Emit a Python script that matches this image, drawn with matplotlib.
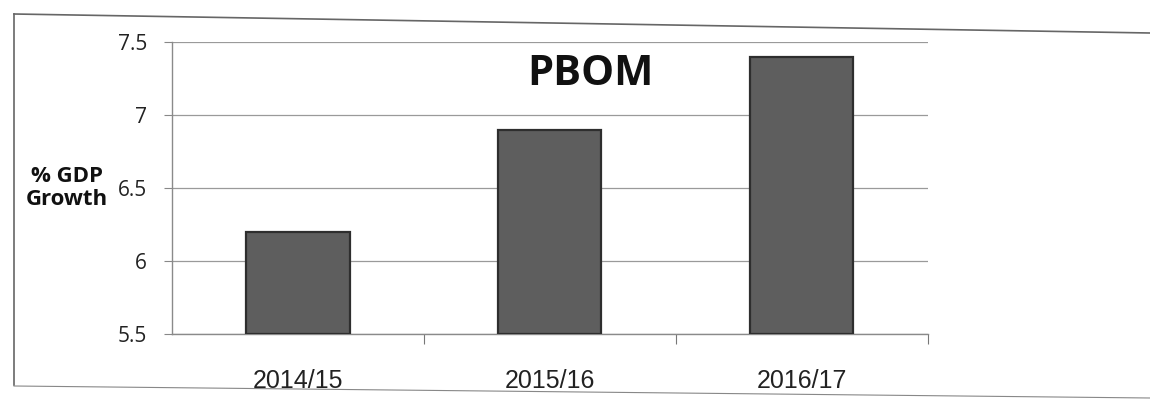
import matplotlib.pyplot as plt
from matplotlib.lines import Line2D

years = ['2014/15', '2015/16', '2016/17']
growth = [6.2, 6.9, 7.4]
y_ticks = [5.5, 6, 6.5, 7, 7.5]
y_labels = ['5.5', '6', '6.5', '7', '7.5']

fig = plt.figure(figsize=(11.5, 4), dpi=100)
ax = fig.add_axes([0.1496, 0.165, 0.657, 0.73])

x = range(len(years))
ax.bar(x, [g - 5.5 for g in growth], bottom=5.5, width=0.41,
       color='#5e5e5e', edgecolor='#2e2e2e', linewidth=1.6, zorder=3)

ax.set_xlim(-0.5, 2.5)
ax.set_ylim(5.5, 7.5)
ax.set_yticks(y_ticks)
ax.set_yticklabels(y_labels, family='Open Sans', fontsize=15, color='#222222')
ax.set_xticks([0.5, 1.5, 2.5])
ax.set_xticklabels([])
ax.tick_params(axis='y', length=6, color='#888888', pad=12)
ax.tick_params(axis='x', length=7, color='#777777', direction='out')
ax.grid(axis='y', color='#9a9a9a', linewidth=0.9, zorder=0)

for s in ['top', 'right']:
    ax.spines[s].set_visible(False)
for s in ['left', 'bottom']:
    ax.spines[s].set_color('#8a8a8a')
    ax.spines[s].set_linewidth(1.0)

# category labels sit low, near the bottom of the scan
for i, yr in enumerate(years):
    ax.text(i, -0.12, yr, transform=ax.get_xaxis_transform(), ha='center', va='top',
            family='Liberation Sans', fontsize=18, color='#222222')

ax.text(1.16, 7.28, 'PBOM', ha='center', va='center', family='Open Sans',
        fontweight='bold', fontsize=30, color='#111111')

fig.text(0.058, 0.53, '% GDP\nGrowth', ha='center', va='center', family='Open Sans',
         fontweight='bold', fontsize=16, color='#111111', linespacing=1.1)

# outer frame of the scanned chart
fig.add_artist(Line2D([14 / 1150, 1.0], [1 - 14 / 400, 1 - 33 / 400], color='#666666', lw=1.2))
fig.add_artist(Line2D([14 / 1150, 14 / 1150], [1 - 14 / 400, 1 - 385 / 400], color='#666666', lw=1.2))
fig.add_artist(Line2D([14 / 1150, 1.0], [1 - 386 / 400, 1 - 398 / 400], color='#888888', lw=0.8))

fig.savefig('out.png', dpi=100)
